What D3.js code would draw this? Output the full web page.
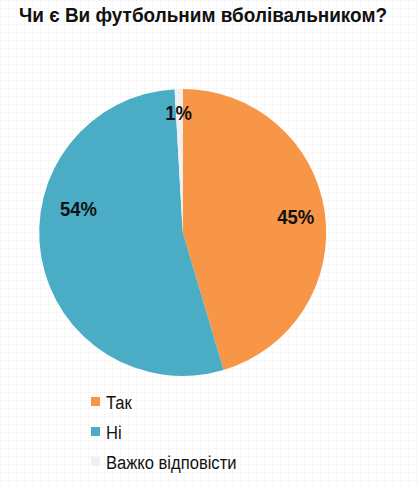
<!DOCTYPE html>
<html><head><meta charset="utf-8">
<script src="https://cdn.jsdelivr.net/npm/d3@7"></script>
<style>html,body{margin:0;padding:0;background:#fff;}</style>
</head><body>
<script>
const title = "Чи є Ви футбольним вболівальником?";
const categories = ["Так", "Ні", "Важко відповісти"];
const values = [45.4, 53.7, 0.9];
const labels = ["45%", "54%", "1%"];
const colors = ["#F79646", "#4BACC6", "#F0F0F0"];

const W = 418, H = 486;
const FONT = "Liberation Sans, Arial, sans-serif";
const svg = d3.select("body").append("svg").attr("width", W).attr("height", H);

// faint graph-paper background
const defs = svg.append("defs");
const pat = defs.append("pattern").attr("id","grid").attr("width",8).attr("height",8).attr("patternUnits","userSpaceOnUse");
pat.append("rect").attr("width",8).attr("height",8).attr("fill","#fff");
pat.append("path").attr("d","M8 0 L0 0 0 8").attr("fill","none").attr("stroke","#f1f1f1").attr("stroke-width",1);
svg.append("rect").attr("width",W).attr("height",H).attr("fill","url(#grid)");

function squeeze(sel, f){
  sel.each(function(){ const w=this.getComputedTextLength(); d3.select(this).attr("textLength", w*f).attr("lengthAdjust","spacingAndGlyphs"); });
}

const t = svg.append("text").attr("x", 203).attr("y", 21.5).attr("text-anchor","middle")
  .attr("font-family",FONT).attr("font-weight","bold")
  .attr("font-size", 20.5).attr("fill","#111").text(title);
t.attr("textLength", 368).attr("lengthAdjust","spacingAndGlyphs");

const cx = 182.7, cy = 232.5, R = 143.5;
const pie = d3.pie().sort(null).value(d => d)(values);
const arc = d3.arc().innerRadius(0).outerRadius(R);
const g = svg.append("g").attr("transform", `translate(${cx},${cy})`);
g.selectAll("path").data(pie).join("path").attr("d", arc).attr("fill", (d,i) => colors[i]);

// label placement (best-fit style): angle in degrees clockwise from top, radius fraction
const labelPlace = [[82, 0.795], [283, 0.745], [358, 0.84]];
const lbl = g.selectAll("text.lbl").data(pie).join("text").attr("class","lbl")
  .attr("x",(d,i)=> Math.sin(labelPlace[i][0]*Math.PI/180)*R*labelPlace[i][1])
  .attr("y",(d,i)=> -Math.cos(labelPlace[i][0]*Math.PI/180)*R*labelPlace[i][1])
  .attr("dy","0.36em")
  .attr("text-anchor","middle").attr("font-family",FONT)
  .attr("font-weight","bold").attr("font-size",21).attr("fill","#111")
  .text((d,i)=>labels[i]);
squeeze(lbl, 0.88);

const leg = svg.append("g").attr("transform","translate(91,397)");
const items = leg.selectAll("g").data(categories).join("g").attr("transform",(d,i)=>`translate(0,${i*30})`);
items.append("rect").attr("width",9).attr("height",9).attr("fill",(d,i)=>colors[i]);
const lt = items.append("text").attr("x",15).attr("y",11.5).attr("font-family",FONT)
  .attr("font-size",18).attr("fill","#111").text(d=>d);
squeeze(lt, 0.92);
</script>
</body></html>
